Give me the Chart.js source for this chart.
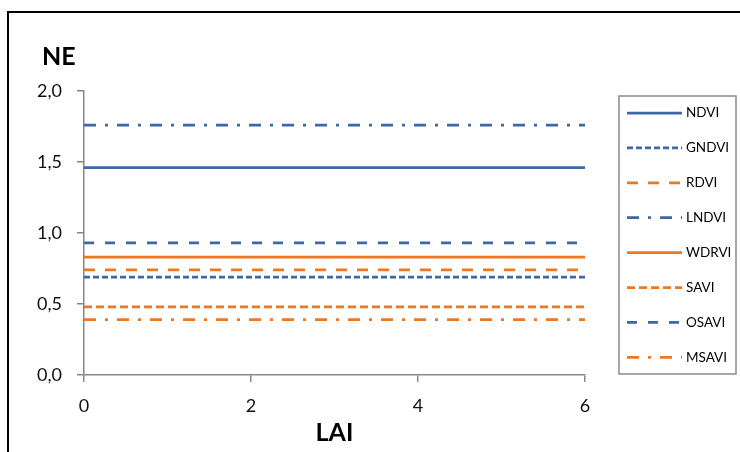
<!DOCTYPE html>
<html>
<head>
<meta charset="utf-8">
<script src="https://cdn.jsdelivr.net/npm/chart.js@4/dist/chart.umd.min.js"></script>
<style>
  html, body { margin: 0; padding: 0; background: #fff; }
  canvas { display: block; }
</style>
</head>
<body>
<canvas id="neChart" width="740" height="452"></canvas>
<script>
// LAI range (x) and the constant NE value of each index
var lai = [0, 6];
var ndvi  = [1.46, 1.46];
var gndvi = [0.69, 0.69];
var rdvi  = [0.74, 0.74];
var lndvi = [1.76, 1.76];
var wdrvi = [0.83, 0.83];
var savi  = [0.48, 0.48];
var osavi = [0.93, 0.93];
var msavi = [0.39, 0.39];

var xTicks = [0, 2, 4, 6];
var yTicks = [0, 0.5, 1, 1.5, 2];

var blue = '#3d67a6';
var orange = '#ef7721';

function pts(vals) {
    return lai.map(function(x, i) { return { x: x, y: vals[i] }; });
}

function series(label, vals, color, dash) {
    return {
        label: label,
        data: pts(vals),
        borderColor: color,
        backgroundColor: color,
        borderWidth: 2.75,
        borderDash: dash,
        borderCapStyle: 'butt',
        pointRadius: 0,
        fill: false,
        tension: 0
    };
}

// frame, axis titles and the boxed legend on the right
var decorations = {
    id: 'decorations',
    afterDraw: function(chart) {
        var ctx = chart.ctx;
        ctx.save();
        // outer frame (only top and left edges are visible)
        ctx.strokeStyle = '#000';
        ctx.lineWidth = 2;
        ctx.beginPath();
        ctx.moveTo(8, 452);
        ctx.lineTo(8, 12);
        ctx.lineTo(740, 12);
        ctx.stroke();

        // axis titles
        ctx.fillStyle = '#000';
        ctx.font = 'bold 25px Lato';
        ctx.textBaseline = 'alphabetic';
        ctx.textAlign = 'left';
        ctx.fillText('NE', 42, 65);
        ctx.textAlign = 'center';
        var a = chart.chartArea;
        ctx.fillText('LAI', (a.left + a.right) / 2, 441);

        // legend box
        ctx.strokeStyle = '#8a8a8a';
        ctx.lineWidth = 1.5;
        ctx.strokeRect(619, 96, 117, 278);
        ctx.font = '13.5px Lato';
        ctx.textAlign = 'left';
        ctx.textBaseline = 'middle';
        chart.data.datasets.forEach(function(ds, i) {
            var y = 113 + i * 34.9;
            ctx.strokeStyle = ds.borderColor;
            ctx.lineWidth = 2.75;
            ctx.setLineDash(ds.borderDash || []);
            ctx.beginPath();
            ctx.moveTo(627, y);
            ctx.lineTo(682, y);
            ctx.stroke();
            ctx.setLineDash([]);
            ctx.fillStyle = '#000';
            ctx.fillText(ds.label, 686, y);
        });
        ctx.restore();
    }
};

var ctx = document.getElementById('neChart').getContext('2d');
var chart = new Chart(ctx, {
    type: 'line',
    data: {
        datasets: [
            series('NDVI', ndvi, blue, []),
            series('GNDVI', gndvi, blue, [6, 3]),
            series('RDVI', rdvi, orange, [11, 10]),
            series('LNDVI', lndvi, blue, [12, 9, 3, 9]),
            series('WDRVI', wdrvi, orange, []),
            series('SAVI', savi, orange, [8, 4]),
            series('OSAVI', osavi, blue, [10, 11]),
            series('MSAVI', msavi, orange, [12, 9, 3, 9])
        ]
    },
    options: {
        responsive: false,
        animation: false,
        layout: { padding: { top: 91, right: 155, bottom: 0, left: 0 } },
        plugins: {
            legend: { display: false },
            tooltip: { enabled: false }
        },
        scales: {
            x: {
                type: 'linear',
                min: lai[0],
                max: lai[lai.length - 1],
                afterBuildTicks: function(s) { s.ticks = xTicks.map(function(v) { return { value: v }; }); },
                afterFit: function(s) { s.height = 77; },
                ticks: { color: '#111', font: { family: 'Lato', size: 18 }, padding: 13, maxRotation: 0 },
                grid: { drawOnChartArea: false, tickLength: 7, color: '#878787', lineWidth: 1.5 },
                border: { color: '#878787', width: 1.5 }
            },
            y: {
                min: yTicks[0],
                max: yTicks[yTicks.length - 1],
                afterBuildTicks: function(s) { s.ticks = yTicks.map(function(v) { return { value: v }; }); },
                afterFit: function(s) { s.width = 84; },
                ticks: {
                    color: '#111',
                    font: { family: 'Lato', size: 18 },
                    padding: 15,
                    callback: function(v) { return v.toFixed(1).replace('.', ','); }
                },
                grid: { drawOnChartArea: false, tickLength: 7, color: '#878787', lineWidth: 1.5 },
                border: { color: '#878787', width: 1.5 }
            }
        }
    },
    plugins: [decorations]
});
</script>
</body>
</html>
